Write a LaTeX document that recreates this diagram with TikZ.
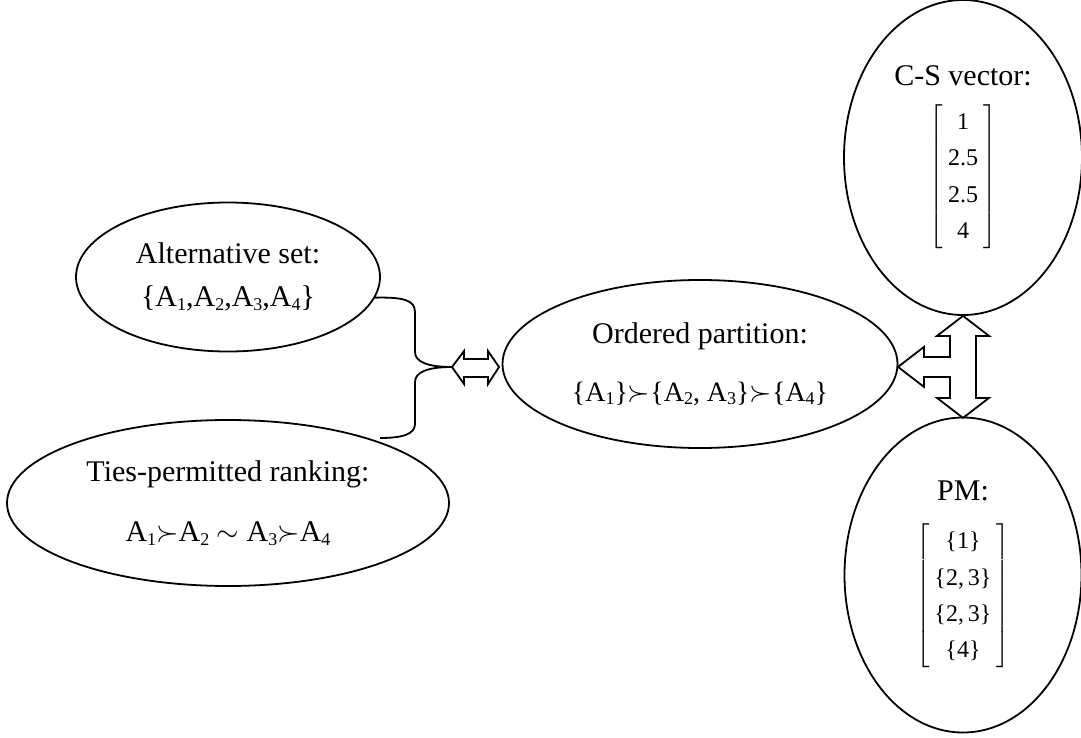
\documentclass[tikz,border=0pt]{standalone}
\usepackage{fontspec}
\setmainfont{Liberation Serif}
\usetikzlibrary{shapes.geometric}

\tikzset{
  bubble/.style={draw, ellipse, inner sep=0pt, align=center, font=\fontsize{15}{17.5}\selectfont},
}
\newcommand{\altA}[1]{A\raisebox{-0.25ex}{\fontsize{9}{9}\selectfont #1}}
\newcommand{\colvec}[1]{{\fontsize{12}{14}\selectfont\renewcommand{\arraystretch}{1.3}\setlength{\tabcolsep}{2.5pt}$\left[\begin{tabular}{c}#1\end{tabular}\right]$}}

\begin{document}
\begin{tikzpicture}[x=0.5pt, y=-0.5pt, line width=0.9pt]
    \useasboundingbox (0,0) rectangle (1081,738);

    \node[bubble, minimum width=152pt, minimum height=74.5pt] (altset) at (228,277)
        {Alternative set:\\[4pt] \{\altA{1},\altA{2},\altA{3},\altA{4}\}};
    \node[bubble, minimum width=221pt, minimum height=83pt] (ties) at (228,503)
        {Ties-permitted ranking:\\[12.5pt] \altA{1}$\succ$\altA{2} $\sim$ \altA{3}$\succ$\altA{4}};
    \node[bubble, minimum width=197.5pt, minimum height=84pt] (ordered) at (700,364)
        {Ordered partition:\\[11.5pt] {\fontsize{14}{17}\selectfont\{\altA{1}\}$\succ$\{\altA{2}, \altA{3}\}$\succ$\{\altA{4}\}}};
    \node[bubble, minimum width=119pt, minimum height=157.5pt] (csvec) at (963,157.5)
        {C-S vector:\\[8pt] \colvec{1\\2.5\\2.5\\4}};
    \node[bubble, minimum width=118.5pt, minimum height=157.5pt] (pm) at (963,575)
        {PM:\\[10pt] \colvec{\{1\}\\\{2,\,3\}\\\{2,\,3\}\\\{4\}}};

    \coordinate (bracetip) at (452,367);
    \coordinate (braceend) at (380,438);
    \draw (altset.-8) .. controls (403,297) and (415,300) .. (415,312) -- (415,352)
        .. controls (415,362) and (428,367) .. (bracetip)
        .. controls (428,367) and (415,372) .. (415,382) -- (415,424)
        .. controls (415,434) and (403,438) .. (braceend);

    \draw[line join=miter] (bracetip) -- ++(12,-16) -- ++(0,8) -- ++(24,0) -- ++(0,-8) -- ++(11,16)
        -- ++(-11,17) -- ++(0,-7) -- ++(-24,0) -- ++(0,7) -- cycle;

    \draw[line join=miter] (csvec.south) -- ++(26,20) -- ++(-13,0) -- ++(0,62) -- ++(13,0) -- ++(-26,20)
        -- ++(-26,-20) -- ++(13,0) -- ++(0,-21) -- ++(-26,0) -- ++(0,10) -- ++(-26,-20)
        -- ++(26,-20) -- ++(0,10) -- ++(26,0) -- ++(0,-21) -- ++(-13,0) -- cycle;
\end{tikzpicture}
\end{document}
